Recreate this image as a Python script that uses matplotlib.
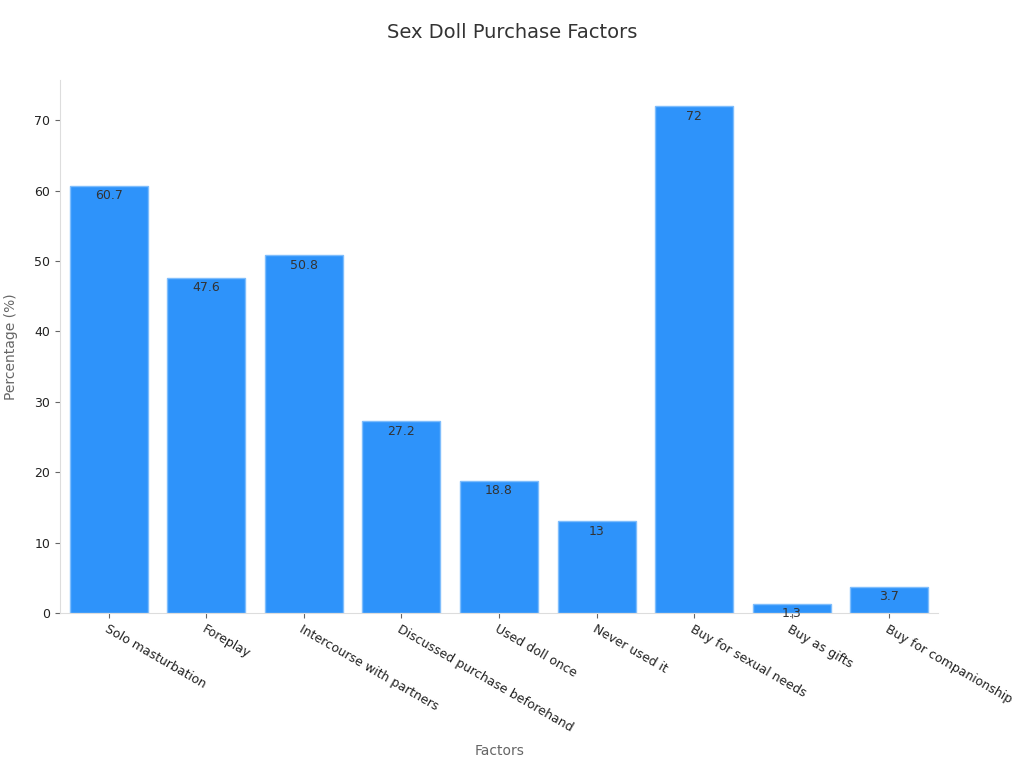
import matplotlib
matplotlib.use("Agg")
import matplotlib.pyplot as plt

categories = ["Solo masturbation", "Foreplay", "Intercourse with partners", "Discussed purchase beforehand",
              "Used doll once", "Never used it", "Buy for sexual needs", "Buy as gifts", "Buy for companionship"]
values = [60.7, 47.6, 50.8, 27.2, 18.8, 13, 72, 1.3, 3.7]

fig = plt.figure(figsize=(10.24, 7.68), dpi=100)
ax = fig.add_axes([60/1024, 1-613/768, 878/1024, 533/768])
x = range(len(categories))
bars = ax.bar(x, values, width=0.8, color="#2e93fa", edgecolor="#7fbdfc", linewidth=1)
for xi, v, b in zip(x, values, bars):
    t = ax.text(xi, v - 0.5, f"{v:g}", ha="center", va="top", fontsize=9, color="#333333")
    t.set_clip_path(b)
ax.set_xlim(-0.5, len(categories) - 0.5)
ax.set_ylim(0, 75.7)
ax.set_xticks(list(x))
ax.set_xticklabels(categories, rotation=-30, ha="left", rotation_mode="anchor", fontsize=9, color="#222222")
ax.tick_params(axis="y", labelsize=9, colors="#222222")
ax.tick_params(color="#666666")
for s in ["top", "right"]:
    ax.spines[s].set_visible(False)
for s in ["left", "bottom"]:
    ax.spines[s].set_color("#dddddd")
ax.set_ylabel("Percentage (%)", fontsize=10, color="#666666", labelpad=12)
fig.text(500/1024, 1-751/768, "Factors", ha="center", va="center", fontsize=10, color="#666666")
fig.text(0.5, 1-33/768, "Sex Doll Purchase Factors", ha="center", va="center", fontsize=14, color="#333333")
fig.savefig("out.png", dpi=100)
